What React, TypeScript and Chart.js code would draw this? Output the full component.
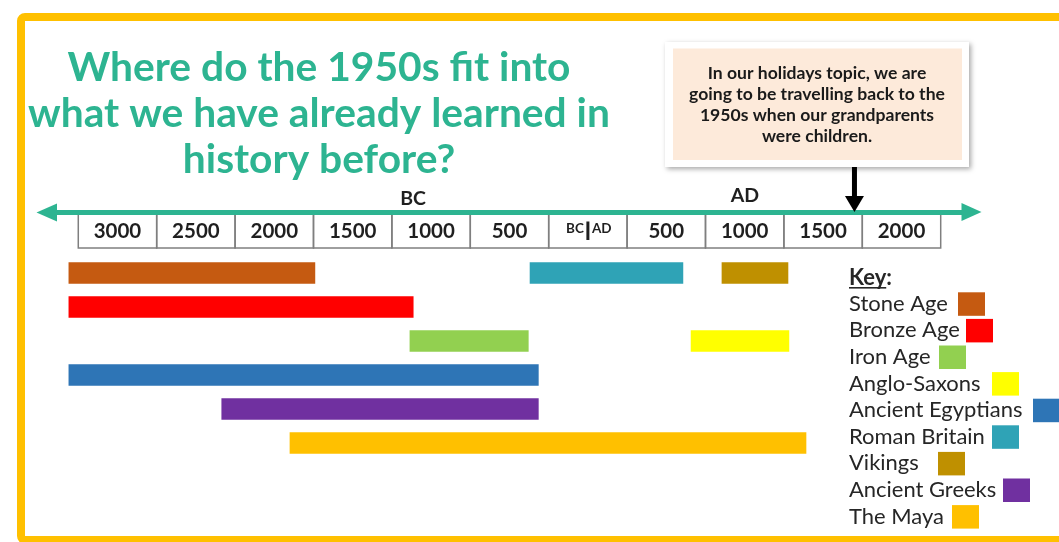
import React, { useEffect, useRef } from 'react';
import { Chart, registerables } from 'chart.js';

Chart.register(...registerables);

// ---------- data ----------
const ROWS = ['row1', 'row2', 'row3', 'row4', 'row5', 'row6'];
const PERIODS = ['Stone Age', 'Bronze Age', 'Iron Age', 'Anglo-Saxons', 'Ancient Egyptians', 'Roman Britain', 'Vikings', 'Ancient Greeks', 'The Maya'];
const PERIOD_ROW = [0, 1, 2, 2, 3, 0, 0, 4, 5];
const PERIOD_START = [-3060, -3060, -885, 908, -3060, -119, 1105, -2085, -1650];
const PERIOD_END = [-1491, -864, -130, 1532, -66, 856, 1526, -66, 1641];
const PERIOD_COLORS = ['#C55A11', '#FF0000', '#92D050', '#FFFF00', '#2E75B6', '#2FA3B6', '#BF9000', '#7030A0', '#FFC000'];

const TICK_VALUES = [-3000, -2500, -2000, -1500, -1000, -500, 0, 500, 1000, 1500, 2000];
const TICK_LABELS = ['3000', '2500', '2000', '1500', '1000', '500', 'BC|AD', '500', '1000', '1500', '2000'];
const TICK_STEP = 500;
const ERA_LABELS = ['BC', 'AD'];
const ERA_YEARS = [-865, 1252];
const MARKER_YEAR = 1950;

const TITLE_LINES = ['Where do the 1950s fit into', 'what we have already learned in', 'history before?'];
const NOTE_LINES = ['In our holidays topic, we are', 'going to be travelling back to the', '1950s when our grandparents', 'were children.'];
const KEY_TITLE = 'Key:';

// ---------- style ----------
const TEAL = '#2DB491';
const KEY_SWATCH_X = [958, 966, 939, 992, 1033, 992, 938, 1003, 952];
const FONT = 'Lato, "Open Sans", sans-serif';

function fitSize(ctx: CanvasRenderingContext2D, text: string, width: number, weight: string) {
  ctx.font = `${weight} 100px ${FONT}`;
  const w = ctx.measureText(text).width;
  return (100 * width) / w;
}

const decorPlugin = {
  id: 'decor',
  afterDraw(chart: any) {
    const ctx: CanvasRenderingContext2D = chart.ctx;
    const xs = chart.scales.x;
    ctx.save();

    // outer frame
    ctx.strokeStyle = '#FFC000';
    ctx.lineWidth = 8;
    ctx.beginPath();
    (ctx as any).roundRect(21, 17, 1100, 523, 4);
    ctx.stroke();

    // title
    const ts = fitSize(ctx, TITLE_LINES[1], 582, 'bold');
    ctx.font = `bold ${ts}px ${FONT}`;
    ctx.fillStyle = TEAL;
    ctx.textAlign = 'center';
    ctx.textBaseline = 'alphabetic';
    const titleBase = [81, 127, 173];
    TITLE_LINES.forEach((t, i) => ctx.fillText(t, 319, titleBase[i]));

    // timeline table
    const top = 214, h = 34;
    ctx.lineWidth = 1.5;
    ctx.strokeStyle = '#7F7F7F';
    TICK_VALUES.forEach((v, i) => {
      const x0 = xs.getPixelForValue(v);
      const x1 = xs.getPixelForValue(v + TICK_STEP);
      ctx.strokeRect(x0, top, x1 - x0, h);
      const cx = (x0 + x1) / 2;
      ctx.fillStyle = '#1F1F1F';
      ctx.textAlign = 'center';
      ctx.textBaseline = 'middle';
      if (TICK_LABELS[i] === 'BC|AD') {
        const [a, b] = TICK_LABELS[i].split('|');
        ctx.font = `bold 13.5px ${FONT}`;
        ctx.textAlign = 'right';
        ctx.fillText(a, cx - 4, 228.5);
        ctx.textAlign = 'left';
        ctx.fillText(b, cx + 4, 228.5);
        ctx.fillRect(cx - 1.5, 221.5, 3, 18.5);
      } else {
        ctx.font = `bold 20.5px ${FONT}`;
        ctx.fillText(TICK_LABELS[i], cx, 231.5);
      }
    });

    // teal double arrow
    ctx.strokeStyle = TEAL;
    ctx.fillStyle = TEAL;
    ctx.lineWidth = 5;
    ctx.beginPath();
    ctx.moveTo(54, 212.5);
    ctx.lineTo(964, 212.5);
    ctx.stroke();
    ctx.beginPath();
    ctx.moveTo(36.5, 212.5);
    ctx.lineTo(57, 203.5);
    ctx.lineTo(57, 221.5);
    ctx.closePath();
    ctx.fill();
    ctx.beginPath();
    ctx.moveTo(981.5, 212);
    ctx.lineTo(961.5, 203);
    ctx.lineTo(961.5, 221);
    ctx.closePath();
    ctx.fill();

    // BC / AD labels
    ctx.fillStyle = '#1F1F1F';
    ctx.font = `bold 19.5px ${FONT}`;
    ctx.textAlign = 'center';
    ctx.textBaseline = 'middle';
    const eraY = [199, 195.5];
    ERA_LABELS.forEach((t, i) => ctx.fillText(t, xs.getPixelForValue(ERA_YEARS[i]), eraY[i]));

    // callout box
    ctx.save();
    ctx.shadowColor = 'rgba(0,0,0,0.35)';
    ctx.shadowBlur = 5;
    ctx.shadowOffsetX = 2;
    ctx.shadowOffsetY = 2;
    ctx.fillStyle = '#FFFFFF';
    ctx.fillRect(665, 42, 304, 125);
    ctx.restore();
    ctx.fillStyle = '#FDEADA';
    ctx.fillRect(673, 48.5, 289, 111.5);
    const ns = fitSize(ctx, NOTE_LINES[1], 256, 'bold');
    ctx.font = `bold ${ns}px ${FONT}`;
    ctx.fillStyle = '#1A1A1A';
    ctx.textAlign = 'center';
    ctx.textBaseline = 'alphabetic';
    NOTE_LINES.forEach((t, i) => ctx.fillText(t, 817, 78.5 + i * 21));

    // black marker arrow
    const mx = xs.getPixelForValue(MARKER_YEAR);
    ctx.strokeStyle = '#000000';
    ctx.fillStyle = '#000000';
    ctx.lineWidth = 5;
    ctx.beginPath();
    ctx.moveTo(mx, 167);
    ctx.lineTo(mx, 198);
    ctx.stroke();
    ctx.beginPath();
    ctx.moveTo(mx - 9.5, 196);
    ctx.lineTo(mx + 9.5, 196);
    ctx.lineTo(mx, 212);
    ctx.closePath();
    ctx.fill();

    // key
    const ks = fitSize(ctx, 'Ancient Egyptians', 173.5, 'normal');
    ctx.textAlign = 'left';
    ctx.textBaseline = 'middle';
    ctx.fillStyle = '#262626';
    ctx.font = `bold ${ks}px ${FONT}`;
    ctx.fillText(KEY_TITLE, 849, 277.5);
    const kw = ctx.measureText(KEY_TITLE.replace(':', '')).width;
    ctx.fillRect(849, 287, kw, 1.6);
    ctx.font = `normal ${ks}px ${FONT}`;
    chart.data.datasets.forEach((ds: any, i: number) => {
      const y = 303.8 + i * 26.6;
      ctx.fillStyle = '#262626';
      ctx.fillText(ds.label, 849, y);
      ctx.fillStyle = ds.backgroundColor;
      ctx.fillRect(KEY_SWATCH_X[i], y - 11.5, 27, 23.5);
    });

    ctx.restore();
  },
};

export default function App() {
  const ref = useRef<HTMLCanvasElement | null>(null);

  useEffect(() => {
    if (!ref.current) return;
    const datasets = PERIODS.map((name, i) => ({
      label: name,
      data: ROWS.map((_, r) => (r === PERIOD_ROW[i] ? [PERIOD_START[i], PERIOD_END[i]] : null)),
      backgroundColor: PERIOD_COLORS[i],
      borderWidth: 0,
      grouped: false,
      barThickness: 21,
    }));
    const chart = new Chart(ref.current, {
      type: 'bar',
      data: { labels: ROWS, datasets: datasets as any },
      options: {
        indexAxis: 'y',
        responsive: false,
        animation: false,
        devicePixelRatio: 1,
        layout: { padding: { left: 62.6, right: 118.3, top: 256, bottom: 82 } },
        plugins: { legend: { display: false }, tooltip: { enabled: false } },
        scales: {
          x: { type: 'linear', min: -3100, max: 2500, display: false },
          y: { type: 'category', display: false, offset: true },
        },
      },
      plugins: [decorPlugin],
    });
    return () => chart.destroy();
  }, []);

  return (
    <div style={{ position: 'absolute', left: 0, top: 0, width: 1059, height: 542, background: '#FFFFFF' }}>
      <canvas ref={ref} width={1059} height={542} style={{ display: 'block' }} />
    </div>
  );
}
